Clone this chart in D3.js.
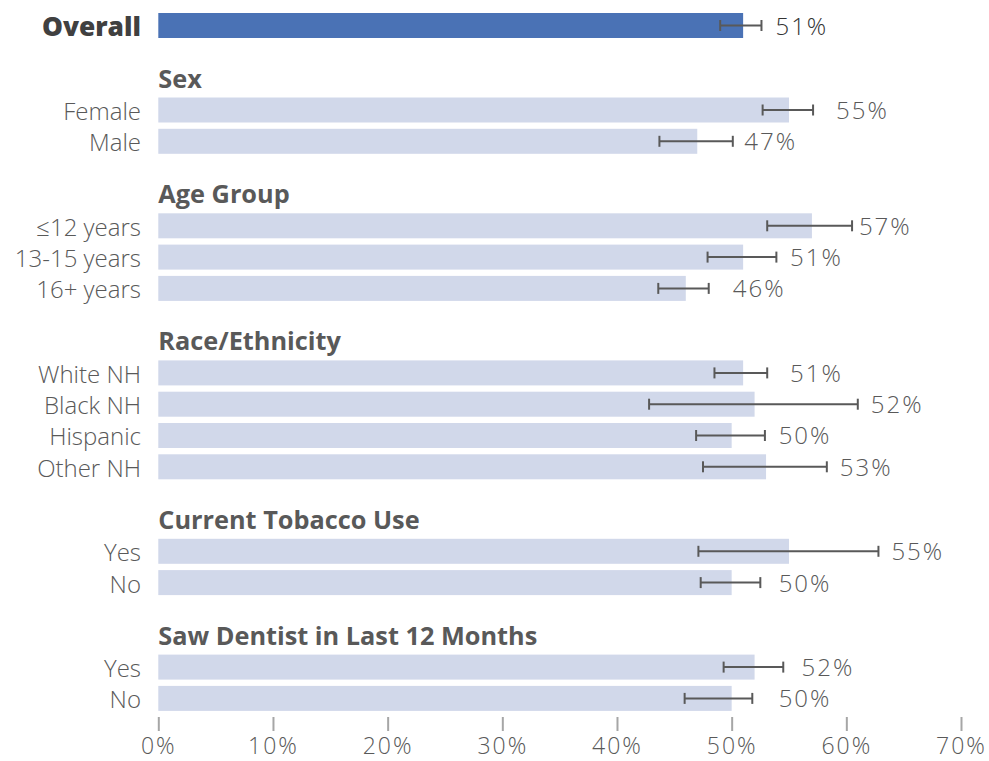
<!DOCTYPE html>
<html>
<head>
<meta charset="utf-8">
<script src="https://cdn.jsdelivr.net/npm/d3@7"></script>
<style>
  html, body { margin: 0; padding: 0; background: #fff; }
  svg { display: block; font-family: "Open Sans", "Noto Sans", sans-serif; }
</style>
</head>
<body>
<svg id="chart" width="989" height="761"></svg>
<script>
// Overall estimate
const overallLabel = "Overall";
const overallValue = 51;
const overallCI = [49.0, 52.6];

// Subgroups, in drawing order
const groups = ["Sex", "Age Group", "Race/Ethnicity", "Current Tobacco Use", "Saw Dentist in Last 12 Months"];
const groupCategories = [
  ["Female", "Male"],
  ["\u226412 years", "13-15 years", "16+ years"],
  ["White NH", "Black NH", "Hispanic", "Other NH"],
  ["Yes", "No"],
  ["Yes", "No"]
];
const groupValues = [
  [55, 47],
  [57, 51, 46],
  [51, 52, 50, 53],
  [55, 50],
  [52, 50]
];
const groupLower = [
  [52.7, 43.7],
  [53.1, 47.9, 43.6],
  [48.5, 42.8, 46.9, 47.5],
  [47.1, 47.3],
  [49.3, 45.9]
];
const groupUpper = [
  [57.1, 50.1],
  [60.5, 53.9, 48.0],
  [53.1, 61.0, 52.9, 58.3],
  [62.8, 52.5],
  [54.5, 51.8]
];

// Axis ticks
const tickValues = [0, 10, 20, 30, 40, 50, 60, 70];

// ---- layout ----
const svg = d3.select("#chart");
const x = d3.scaleLinear().domain([0, 70]).range([158.3, 961]);

// Rows sit on a slot index; a new group adds extra room for its header
const groupGapSlots = 2.7;
const rows = [{ label: overallLabel, value: overallValue, lo: overallCI[0], hi: overallCI[1], overall: true, slot: 0 }];
const headers = [];
let slot = 0;
groups.forEach((g, gi) => {
  slot += groupGapSlots;
  headers.push({ name: g, slot: slot });
  groupCategories[gi].forEach((c, ci) => {
    if (ci > 0) slot += 1;
    rows.push({ label: c, value: groupValues[gi][ci], lo: groupLower[gi][ci], hi: groupUpper[gi][ci], overall: false, slot: slot });
  });
});
const y = d3.scaleLinear().domain([0, slot]).range([25.5, 698.4]);
const barH = 25;

const textGray = "#595959";
const darkGray = "#404040";

// Group headers
svg.append("g").selectAll("text").data(headers).join("text")
  .attr("x", x(0))
  .attr("y", d => y(d.slot) - 22.5)
  .attr("font-size", 25.3)
  .attr("font-weight", 700)
  .attr("fill", textGray)
  .text(d => d.name);

// Bars
svg.append("g").selectAll("rect").data(rows).join("rect")
  .attr("x", x(0))
  .attr("y", d => y(d.slot) - barH / 2)
  .attr("width", d => x(d.value) - x(0))
  .attr("height", barH)
  .attr("fill", d => d.overall ? "#4A72B5" : "#D1D8EA");

// Category labels
svg.append("g").selectAll("text").data(rows).join("text")
  .attr("x", 141)
  .attr("y", d => y(d.slot) + (d.overall ? 10.5 : 10))
  .attr("text-anchor", "end")
  .attr("font-size", d => d.overall ? 26.3 : 24)
  .attr("font-weight", d => d.overall ? 800 : 350)
  .attr("fill", d => d.overall ? darkGray : textGray)
  .text(d => d.label);

// Confidence-interval whiskers
const eb = svg.append("g").attr("stroke", "#595959").attr("stroke-width", 2);
rows.forEach(d => {
  const cy = y(d.slot);
  eb.append("line").attr("x1", x(d.lo)).attr("x2", x(d.hi)).attr("y1", cy).attr("y2", cy);
  eb.append("line").attr("x1", x(d.lo)).attr("x2", x(d.lo)).attr("y1", cy - 5.5).attr("y2", cy + 5.5);
  eb.append("line").attr("x1", x(d.hi)).attr("x2", x(d.hi)).attr("y1", cy - 5.5).attr("y2", cy + 5.5);
});

// Value labels: a fixed distance past the bar, pushed beyond the whisker when it reaches that far
const fmt = d => d3.format(".0%")(d / 100);
svg.append("g").selectAll("text").data(rows).join("text")
  .attr("x", d => {
    if (d.overall) return x(d.hi) + 14;
    const base = x(d.value) + 47;
    return x(d.hi) + 4 > base ? x(d.hi) + 13 : base;
  })
  .attr("y", d => y(d.slot) + 9)
  .attr("font-size", 24)
  .attr("font-weight", 350)
  .attr("letter-spacing", 2)
  .attr("fill", d => d.overall ? "#333333" : textGray)
  .text(d => fmt(d.value));

// X axis
const axis = svg.append("g").attr("transform", "translate(0,717)")
  .call(d3.axisBottom(x).tickValues(tickValues).tickSize(14).tickPadding(7).tickFormat(d => d + "%"));
axis.select(".domain").remove();
axis.selectAll(".tick line").attr("stroke", "#A6A6A6").attr("stroke-width", 2);
axis.selectAll(".tick text")
  .attr("font-size", 23)
  .attr("font-weight", 350)
  .attr("letter-spacing", 2)
  .attr("font-family", "\"Open Sans\", \"Noto Sans\", sans-serif")
  .attr("fill", textGray);
</script>
</body>
</html>
